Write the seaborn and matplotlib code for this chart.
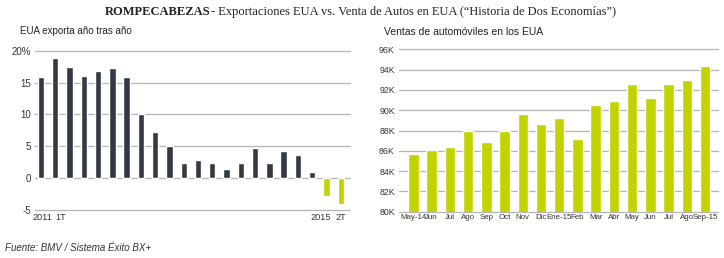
import matplotlib
matplotlib.use("Agg")
import matplotlib.pyplot as plt
import matplotlib.transforms as mtrans
import seaborn as sns
import pandas as pd

sns.set_theme(style="white")
plt.rcParams['font.family'] = ['Liberation Sans', 'DejaVu Sans']

# Left chart: US exports year over year (%)
exp_labels = ["2011", "1T"] + [""] * 18 + ["2015", "2T"]
exp_values = [15.9, 18.9, 17.4, 16.0, 16.8, 17.3, 15.8, 10.05, 7.3, 5.05,
              2.3, 2.9, 2.4, 1.5, 2.3, 4.7, 2.3, 4.2, 3.7, 1.0, -2.8, -4.1]

# Right chart: US auto sales (thousands)
sales_labels = ["May-14", "Jun", "Jul", "Ago", "Sep", "Oct", "Nov", "Dic", "Ene-15",
                "Feb", "Mar", "Abr", "May", "Jun", "Jul", "Ago", "Sep-15"]
sales_values = [85.7, 86.1, 86.4, 88.0, 86.9, 87.95, 89.6, 88.6, 89.2,
                87.2, 90.5, 90.9, 92.6, 91.2, 92.6, 93.0, 94.4]

exp_left_ticks = [-5, 0, 5, 10, 15, 20]
exp_tick_labels = ["-5", "0", "5", "10", "15", "20%"]
sales_ticks = [80, 82, 84, 86, 88, 90, 92, 94, 96]
sales_tick_labels = ["80K", "82K", "84K", "86K", "88K", "90K", "92K", "94K", "96K"]

DARK = "#333a43"
GREEN = "#c2d400"
GRID = "#b4b4b4"
TXT = "#333333"

W, H = 724, 258
fig = plt.figure(figsize=(W / 100, H / 100), dpi=100)

def ax_rect(x0, x1, ytop, ybot):
    return [x0 / W, 1 - ybot / H, (x1 - x0) / W, (ybot - ytop) / H]

def style_ticks(ax, xsize, ysize):
    for lab in ax.get_xticklabels():
        lab.set_fontsize(xsize)
        lab.set_color(TXT)
    for lab in ax.get_yticklabels():
        lab.set_fontsize(ysize)
        lab.set_color(TXT)
    for gl in ax.get_ygridlines():
        gl.set_clip_on(False)

# ---- Left chart ----
ax1 = fig.add_axes(ax_rect(35, 350, 50.7, 210))
df1 = pd.DataFrame({"idx": [str(i) for i in range(len(exp_values))], "val": exp_values})
colors1 = [GREEN if v < 0 else DARK for v in exp_values]
sns.barplot(data=df1, x="idx", y="val", hue="idx", palette=colors1,
            width=0.45, legend=False, ax=ax1, saturation=1)
ax1.set_xlim(-0.42, len(exp_values) - 1 + 0.65)
ax1.set_ylim(-5, 20)
ax1.set_yticks(exp_left_ticks)
ax1.set_yticklabels(exp_tick_labels)
ax1.set_xticks(range(len(exp_values)))
ax1.set_xticklabels(exp_labels)
ax1.grid(axis="y", color=GRID, linewidth=0.9)
ax1.set_axisbelow(True)
for s in ax1.spines.values():
    s.set_visible(False)
ax1.tick_params(axis="both", length=0, pad=3)
ax1.tick_params(axis="x", pad=2)
ax1.set_xlabel("")
ax1.set_ylabel("")
style_ticks(ax1, 6.6, 7.0)
shifts = {"2011": 1, "1T": 5, "2015": -6, "2T": 0}
for lab in ax1.get_xticklabels():
    dx = shifts.get(lab.get_text(), 0)
    if dx:
        lab.set_transform(lab.get_transform() +
                          mtrans.ScaledTranslation(dx / 100, 0, fig.dpi_scale_trans))

# ---- Right chart ----
ax2 = fig.add_axes(ax_rect(399, 718, 49.3, 211.7))
df2 = pd.DataFrame({"idx": [str(i) for i in range(len(sales_values))], "val": sales_values})
sns.barplot(data=df2, x="idx", y="val", color=GREEN, width=0.57, ax=ax2, saturation=1)
ax2.set_xlim(-0.79, len(sales_values) - 1 + 0.71)
ax2.set_ylim(80, 96)
ax2.set_yticks(sales_ticks)
ax2.set_yticklabels(sales_tick_labels)
ax2.set_xticks(range(len(sales_values)))
ax2.set_xticklabels(sales_labels)
ax2.grid(axis="y", color=GRID, linewidth=0.9)
ax2.set_axisbelow(True)
for s in ax2.spines.values():
    s.set_visible(False)
ax2.tick_params(axis="both", length=0, pad=3)
ax2.tick_params(axis="x", pad=2)
ax2.set_xlabel("")
ax2.set_ylabel("")
style_ticks(ax2, 5.7, 6.3)

# ---- Texts ----
r = fig.canvas.get_renderer()
tmp = fig.text(105 / W, 1 - 12 / H, "ROMPECABEZAS", family="Liberation Serif", weight="bold",
               fontsize=9.0, color="#222222", va="center", ha="left")
bb = tmp.get_window_extent(renderer=r)
fig.text(bb.x1 / W, 1 - 12 / H, "- Exportaciones EUA vs. Venta de Autos en EUA (“Historia de Dos Economías”)",
         family="Liberation Serif", fontsize=9.0, color="#222222", va="center", ha="left")

fig.text(20 / W, 1 - 31 / H, "EUA exporta año tras año", fontsize=7, color="#222222",
         va="center", ha="left")
fig.text(384 / W, 1 - 32 / H, "Ventas de automóviles en los EUA", fontsize=7.5, color="#222222",
         va="center", ha="left")
fig.text(5 / W, 1 - 248 / H, "Fuente: BMV / Sistema Éxito BX+", fontsize=7, style="italic",
         color="#333333", va="center", ha="left")

fig.savefig("out.png", dpi=100, facecolor="white")
